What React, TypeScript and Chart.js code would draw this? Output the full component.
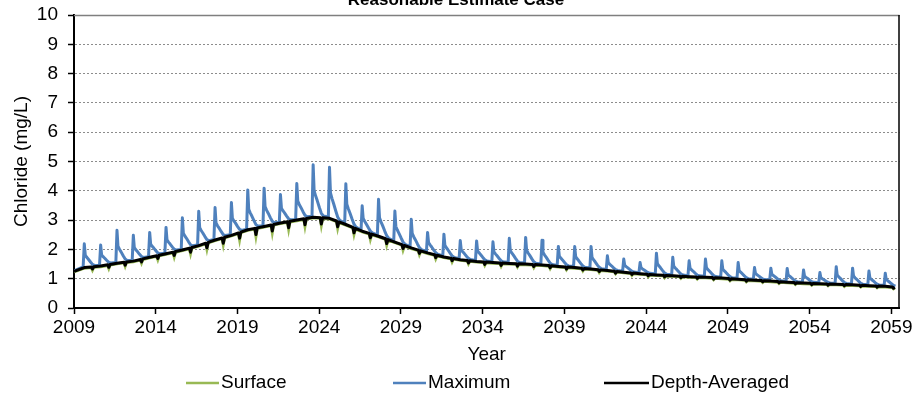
import React, { useEffect, useRef } from "react";
import { Chart, registerables } from "chart.js";

Chart.register(...registerables);

const CHART_TITLE = "Reasonable Estimate Case";
const Y_TITLE = "Chloride (mg/L)";
const X_TITLE = "Year";
const SERIES_NAMES = ["Surface", "Maximum", "Depth-Averaged"];
const SERIES_COLORS = ["#98B954", "#4F81BD", "#000000"];

const X_TICK_YEARS = [2009, 2014, 2019, 2024, 2029, 2034, 2039, 2044, 2049, 2054, 2059];
const Y_MIN = 0;
const Y_MAX = 10;
const X_MIN = 2009;
const X_MAX = 2059.5;

// Years in which the annual spike of the Maximum series occurs
const SPIKE_YEARS = [
  2009, 2010, 2011, 2012, 2013, 2014, 2015, 2016, 2017, 2018,
  2019, 2020, 2021, 2022, 2023, 2024, 2025, 2026, 2027, 2028,
  2029, 2030, 2031, 2032, 2033, 2034, 2035, 2036, 2037, 2038,
  2039, 2040, 2041, 2042, 2043, 2044, 2045, 2046, 2047, 2048,
  2049, 2050, 2051, 2052, 2053, 2054, 2055, 2056, 2057, 2058,
];
// fraction of the year at which the spike happens
const SPIKE_PHASE = 0.63;

// Peak of the Maximum series each year (mg/L)
const MAXIMUM_PEAKS = [
  2.16, 2.12, 2.62, 2.45, 2.55, 2.72, 3.05, 3.27, 3.4, 3.57,
  4.0, 4.06, 3.84, 4.22, 4.86, 4.77, 4.21, 3.46, 3.68, 3.28,
  3.0, 2.55, 2.49, 2.27, 2.26, 2.23, 2.35, 2.38, 2.28, 2.07,
  2.07, 2.07, 1.75, 1.64, 1.52, 1.84, 1.7, 1.58, 1.64, 1.58,
  1.52, 1.35, 1.33, 1.32, 1.27, 1.18, 1.38, 1.33, 1.23, 1.16,
];

// Depth-averaged level just before each spike (mg/L)
const DEPTH_LEVELS = [
  1.38, 1.43, 1.53, 1.6, 1.73, 1.85, 1.98, 2.13, 2.32, 2.48,
  2.67, 2.78, 2.9, 3.0, 3.1, 3.06, 2.85, 2.62, 2.45, 2.25,
  2.05, 1.88, 1.74, 1.65, 1.59, 1.55, 1.52, 1.5, 1.47, 1.42,
  1.38, 1.33, 1.28, 1.22, 1.17, 1.13, 1.1, 1.07, 1.05, 1.02,
  0.98, 0.95, 0.92, 0.88, 0.85, 0.83, 0.81, 0.79, 0.76, 0.74,
];

// Short dip of the depth-averaged series half a year after each spike
const DEPTH_DIPS = [
  0.07, 0.09, 0.1, 0.09, 0.1, 0.12, 0.15, 0.17, 0.19, 0.19,
  0.22, 0.21, 0.21, 0.21, 0.21, 0.18, 0.17, 0.14, 0.15, 0.12,
  0.1, 0.09, 0.08, 0.08, 0.08, 0.08, 0.08, 0.07, 0.07, 0.07,
  0.06, 0.06, 0.06, 0.05, 0.05, 0.05, 0.05, 0.05, 0.05, 0.05,
  0.05, 0.04, 0.04, 0.04, 0.04, 0.04, 0.04, 0.04, 0.04, 0.04,
];

// Dip of the surface series at the same moments (a little deeper than depth-averaged)
const SURFACE_DIPS = [
  0.11, 0.13, 0.14, 0.13, 0.14, 0.17, 0.2, 0.22, 0.24, 0.25,
  0.28, 0.27, 0.26, 0.26, 0.26, 0.23, 0.22, 0.19, 0.2, 0.17,
  0.14, 0.13, 0.12, 0.11, 0.11, 0.11, 0.1, 0.1, 0.1, 0.09,
  0.09, 0.09, 0.08, 0.08, 0.08, 0.08, 0.07, 0.07, 0.07, 0.07,
  0.07, 0.06, 0.06, 0.06, 0.06, 0.06, 0.06, 0.06, 0.06, 0.06,
];

// Start / end values
const START_DEPTH = 1.25;
const START_MAXIMUM = 1.27;
const END_DEPTH = 0.69;

// Shape of the Maximum series around each spike: [years after spike, share of the excess above level]
const MAXIMUM_PROFILE: [number, number][] = [
  [-0.07, 0.0],
  [0.0, 1.0],
  [0.06, 0.5],
  [0.15, 0.4],
  [0.25, 0.31],
  [0.38, 0.18],
  [0.5, 0.07],
  [0.62, 0.02],
];

type Pt = { x: number; y: number };

function levelBetween(k: number, dt: number): number {
  const a = DEPTH_LEVELS[k];
  const b = k + 1 < DEPTH_LEVELS.length ? DEPTH_LEVELS[k + 1] : END_DEPTH;
  return a + (b - a) * dt;
}

function buildLevelSeries(dips: number[], offset: number, start: number): Pt[] {
  const pts: Pt[] = [{ x: X_MIN, y: start + offset }];
  SPIKE_YEARS.forEach((yr, k) => {
    const t = yr + SPIKE_PHASE;
    pts.push({ x: t, y: levelBetween(k, 0) + offset });
    pts.push({ x: t + 0.43, y: levelBetween(k, 0.43) + offset });
    pts.push({ x: t + 0.5, y: levelBetween(k, 0.5) - dips[k] });
    pts.push({ x: t + 0.58, y: levelBetween(k, 0.58) + offset });
  });
  return pts;
}

function buildMaximumSeries(): Pt[] {
  const pts: Pt[] = [{ x: X_MIN, y: START_MAXIMUM }];
  SPIKE_YEARS.forEach((yr, k) => {
    const t = yr + SPIKE_PHASE;
    const excess = MAXIMUM_PEAKS[k] - DEPTH_LEVELS[k];
    MAXIMUM_PROFILE.forEach(([dt, f]) => {
      pts.push({ x: t + dt, y: levelBetween(k, dt) + 0.03 + f * excess });
    });
  });
  return pts;
}

const FONT_FAMILY = '"Liberation Sans", Arial, Helvetica, sans-serif';
const FONT_SIZE = 19;

const decorPlugin = {
  id: "decor",
  afterDraw(chart: any) {
    const { ctx, chartArea } = chart;
    const { left, right, top, bottom } = chartArea;
    ctx.save();
    // top border
    ctx.strokeStyle = "#7f7f7f";
    ctx.lineWidth = 1.5;
    ctx.beginPath();
    ctx.moveTo(left, top + 0.5);
    ctx.lineTo(right, top + 0.5);
    ctx.stroke();
    // right border
    ctx.strokeStyle = "#000";
    ctx.lineWidth = 1.5;
    ctx.beginPath();
    ctx.moveTo(right - 0.5, top);
    ctx.lineTo(right - 0.5, bottom);
    ctx.stroke();

    // title (cut off at top)
    ctx.fillStyle = "#000";
    ctx.font = `bold 17px ${FONT_FAMILY}`;
    ctx.textAlign = "center";
    ctx.textBaseline = "alphabetic";
    ctx.fillText(CHART_TITLE, 456, 5);

    // legend
    const legendY = 383;
    const lineStarts = [186, 393, 604];
    const lineEnds = [219, 426, 649];
    ctx.font = `${FONT_SIZE}px ${FONT_FAMILY}`;
    ctx.textAlign = "left";
    ctx.textBaseline = "middle";
    SERIES_NAMES.forEach((name, i) => {
      ctx.strokeStyle = SERIES_COLORS[i];
      ctx.lineWidth = 2.5;
      ctx.beginPath();
      ctx.moveTo(lineStarts[i], legendY);
      ctx.lineTo(lineEnds[i], legendY);
      ctx.stroke();
      ctx.fillStyle = "#000";
      ctx.fillText(name, lineEnds[i] + 2, legendY);
    });
    ctx.restore();
  },
};

export default function App() {
  const canvasRef = useRef<HTMLCanvasElement | null>(null);

  useEffect(() => {
    if (!canvasRef.current) return;
    const surface = buildLevelSeries(SURFACE_DIPS, -0.02, START_DEPTH);
    const depth = buildLevelSeries(DEPTH_DIPS, 0, START_DEPTH);
    const maximum = buildMaximumSeries();

    const chart = new Chart(canvasRef.current, {
      type: "line",
      data: {
        datasets: [
          {
            label: SERIES_NAMES[0],
            data: surface,
            borderColor: SERIES_COLORS[0],
            backgroundColor: SERIES_COLORS[0],
            borderWidth: 3,
            pointRadius: 0,
            tension: 0,
            order: 3,
          },
          {
            label: SERIES_NAMES[1],
            data: maximum,
            borderColor: SERIES_COLORS[1],
            backgroundColor: SERIES_COLORS[1],
            borderWidth: 3,
            borderJoinStyle: "round",
            pointRadius: 0,
            tension: 0,
            order: 2,
          },
          {
            label: SERIES_NAMES[2],
            data: depth,
            borderColor: SERIES_COLORS[2],
            backgroundColor: SERIES_COLORS[2],
            borderWidth: 3,
            borderJoinStyle: "round",
            pointRadius: 0,
            tension: 0,
            order: 1,
          },
        ],
      },
      options: {
        animation: false,
        responsive: true,
        maintainAspectRatio: false,
        layout: { padding: { top: 15, right: 18.5, bottom: 30, left: 0 } },
        plugins: {
          legend: { display: false },
          title: { display: false },
          tooltip: { enabled: false },
        },
        scales: {
          x: {
            type: "linear",
            min: X_MIN,
            max: X_MAX,
            afterBuildTicks: (scale: any) => {
              scale.ticks = X_TICK_YEARS.map((v) => ({ value: v }));
            },
            afterFit: (scale: any) => {
              scale.height = 60;
              scale.paddingLeft = 0;
              scale.paddingRight = 0;
            },
            ticks: {
              autoSkip: false,
              maxRotation: 0,
              minRotation: 0,
              padding: 2,
              color: "#000",
              font: { family: FONT_FAMILY, size: FONT_SIZE },
              callback: (v: any) => String(v),
            },
            grid: {
              drawOnChartArea: false,
              drawTicks: true,
              tickLength: 6,
              tickColor: "#000",
              tickWidth: 1.5,
            },
            border: { display: true, color: "#000", width: 2 },
            title: {
              display: true,
              text: X_TITLE,
              color: "#000",
              font: { family: FONT_FAMILY, size: FONT_SIZE },
              padding: { top: 0, bottom: 2 },
            },
          },
          y: {
            min: Y_MIN,
            max: Y_MAX,
            afterFit: (scale: any) => {
              scale.width = 74;
              scale.paddingTop = 0;
              scale.paddingBottom = 0;
            },
            ticks: {
              stepSize: 1,
              padding: 10,
              color: "#000",
              font: { family: FONT_FAMILY, size: FONT_SIZE },
            },
            grid: {
              drawOnChartArea: true,
              drawTicks: true,
              tickLength: 6,
              color: "#8c8c8c",
              lineWidth: 1,
              tickColor: "#000",
              tickWidth: 1.5,
              tickBorderDash: [],
            },
            border: { display: true, color: "#000", width: 2, dash: [2, 2] },
            title: {
              display: true,
              text: Y_TITLE,
              color: "#000",
              font: { family: FONT_FAMILY, size: FONT_SIZE },
              padding: { top: 10.5, bottom: 0 },
            },
          },
        },
      } as any,
      plugins: [decorPlugin],
    });
    return () => chart.destroy();
  }, []);

  return (
    <div style={{ position: "fixed", left: 0, top: 0, width: 918, height: 398, background: "#fff" }}>
      <canvas ref={canvasRef} />
    </div>
  );
}
